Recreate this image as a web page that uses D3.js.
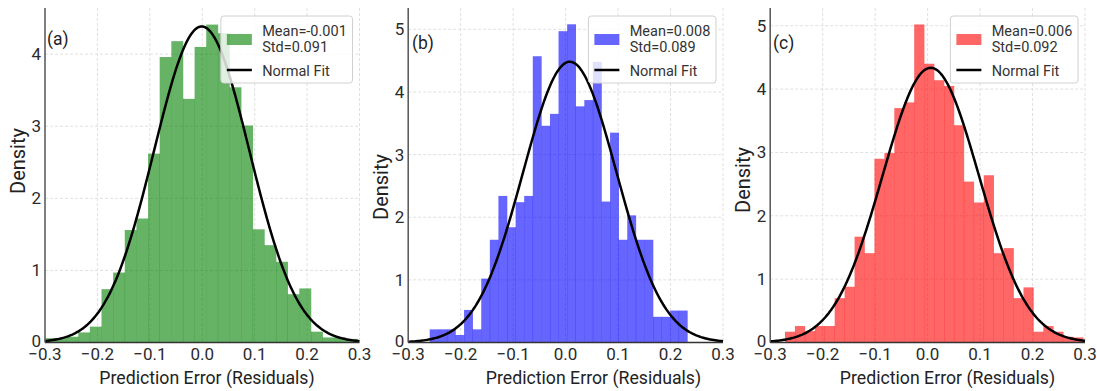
<!DOCTYPE html>
<html>
<head>
<meta charset="utf-8">
<script src="https://cdn.jsdelivr.net/npm/d3@7"></script>
<style>
  body { margin: 0; background: #fff; }
  svg text { font-family: Roboto, "Noto Sans", sans-serif; }
</style>
</head>
<body>
<svg id="chart" width="1097" height="391"></svg>
<script>
// residual histograms (density)
var panelLabels = ['(a)', '(b)', '(c)'];
var barColors = ['green', 'blue', 'red'];
var binStart = [-0.3032, -0.259, -0.2718];
var binWidth = [0.0222, 0.01637, 0.01894];

var densityA = [0.06, 0.06, 0.08, 0.14, 0.22, 0.74, 0.97, 1.56, 1.72, 2.62, 3.96, 4.18, 3.38, 4.10,
  4.41, 4.29, 3.54, 3.01, 1.57, 1.35, 1.12, 0.67, 0.75, 0.15, 0.07, 0.07, 0.05];
var densityB = [0.21, 0.21, 0.21, 0.12, 0.52, 0.21, 1.02, 1.64, 2.34, 1.84, 2.24, 2.34, 4.57, 3.46, 3.65,
  4.97, 5.08, 3.77, 3.87, 4.48, 2.25, 3.35, 1.64, 2.03, 1.64, 1.64, 0.41, 0.41, 0.51, 0.51];
var densityC = [0.17, 0.26, 0.18, 0.26, 0.26, 0.70, 0.88, 1.67, 1.41, 2.90, 2.99, 3.70, 3.79, 5.02, 4.40,
  4.14, 4.05, 3.43, 2.54, 2.21, 2.64, 1.41, 1.49, 0.70, 0.87, 0.17, 0.26, 0.17, 0.09, 0.08];

var fitMean = [-0.001, 0.008, 0.006];
var fitStd = [0.091, 0.089, 0.092];

var xTicks = [-0.3, -0.2, -0.1, 0.0, 0.1, 0.2, 0.3];
var yTicksA = [0, 1, 2, 3, 4];
var yTicksBC = [0, 1, 2, 3, 4, 5];
var yMax = [4.64, 5.34, 5.28];

var legendFit = 'Normal Fit';
var xTitle = 'Prediction Error (Residuals)';
var yTitle = 'Density';

;(function() {
  // layout of the three panels
  var layout = [
    {left: 45, right: 359.5, xTitleX: 207, yTitleY: 161, tagX: 47, tagY: 45},
    {left: 408.2, right: 723, xTitleX: 593.5, yTitleY: 187, tagX: 412, tagY: 49},
    {left: 770.2, right: 1085, xTitleX: 947.5, yTitleY: 180, tagX: 773, tagY: 49}
  ];
  var plotTop = 8, plotBottom = 342.5;

  var svg = d3.select('#chart');
  var fmt = d3.format('.1f');

  function normalPdf(x, m, s) {
    return Math.exp(-0.5 * Math.pow((x - m) / s, 2)) / (s * Math.sqrt(2 * Math.PI));
  }

  function drawPanel(i, density, yTicks) {
    var L = layout[i];
    var x = d3.scaleLinear().domain([-0.3, 0.3]).range([L.left, L.right]);
    var y = d3.scaleLinear().domain([0, yMax[i]]).range([plotBottom, plotTop]);

    var g = svg.append('g').attr('class', 'panel');

    g.append('clipPath').attr('id', 'clip' + i)
      .append('rect')
      .attr('x', L.left).attr('y', plotTop)
      .attr('width', L.right - L.left).attr('height', plotBottom - plotTop);

    // grid
    g.append('g').selectAll('line')
      .data(xTicks.slice(1))
      .enter().append('line')
      .attr('x1', function(d){ return x(d); })
      .attr('x2', function(d){ return x(d); })
      .attr('y1', plotTop).attr('y2', plotBottom)
      .attr('stroke', '#e0e0e0').attr('stroke-dasharray', '3,2').attr('stroke-width', 1);

    g.append('g').selectAll('line')
      .data(yTicks.slice(1))
      .enter().append('line')
      .attr('x1', L.left).attr('x2', L.right)
      .attr('y1', function(d){ return y(d); })
      .attr('y2', function(d){ return y(d); })
      .attr('stroke', '#e0e0e0').attr('stroke-dasharray', '3,2').attr('stroke-width', 1);

    // histogram bars
    var bins = density.map(function(v, k){
      var x0 = binStart[i] + k * binWidth[i];
      return {x0: x0, x1: x0 + binWidth[i], v: v};
    });

    g.append('g').attr('clip-path', 'url(#clip' + i + ')')
      .selectAll('rect')
      .data(bins)
      .enter().append('rect')
      .attr('x', function(d){ return x(d.x0); })
      .attr('width', function(d){ return x(d.x1) - x(d.x0) + 0.3; })
      .attr('y', function(d){ return y(d.v); })
      .attr('height', function(d){ return plotBottom - y(d.v); })
      .attr('fill', barColors[i])
      .attr('fill-opacity', 0.6);

    // normal fit
    var pts = d3.range(0, 201).map(function(k){
      var xv = -0.3 + k * 0.003;
      return [xv, normalPdf(xv, fitMean[i], fitStd[i])];
    });
    g.append('path')
      .datum(pts)
      .attr('fill', 'none')
      .attr('stroke', '#000')
      .attr('stroke-width', 2.5)
      .attr('d', d3.line()
        .x(function(d){ return x(d[0]); })
        .y(function(d){ return y(d[1]); }));

    // spines
    g.append('line')
      .attr('x1', L.left).attr('x2', L.left).attr('y1', plotTop).attr('y2', plotBottom)
      .attr('stroke', '#555').attr('stroke-width', 1.5);
    g.append('line')
      .attr('x1', L.left).attr('x2', L.right).attr('y1', plotBottom).attr('y2', plotBottom)
      .attr('stroke', '#333').attr('stroke-width', 1.5);

    // tick labels
    g.append('g').selectAll('text')
      .data(xTicks)
      .enter().append('text')
      .attr('x', function(d){ return x(d); })
      .attr('y', 360)
      .attr('text-anchor', 'middle')
      .attr('font-size', 17)
      .attr('fill', '#2b2b2b')
      .text(function(d){ return fmt(d); });

    g.append('g').selectAll('text')
      .data(yTicks)
      .enter().append('text')
      .attr('x', L.left - 4)
      .attr('y', function(d){ return y(d) - (d === 0 ? 1.5 : 0); })
      .attr('dy', '0.35em')
      .attr('text-anchor', 'end')
      .attr('font-size', 17)
      .attr('fill', '#2b2b2b')
      .text(function(d){ return d; });

    // axis titles
    g.append('text')
      .attr('x', L.xTitleX).attr('y', 384)
      .attr('text-anchor', 'middle')
      .attr('font-size', 17.7)
      .attr('fill', '#222')
      .text(xTitle);

    g.append('text')
      .attr('transform', 'translate(' + (L.left - 20) + ',' + L.yTitleY + ') rotate(-90)')
      .attr('text-anchor', 'middle')
      .attr('font-size', 20)
      .attr('fill', '#222')
      .text(yTitle);

    // panel tag
    g.append('text')
      .attr('x', L.tagX).attr('y', L.tagY)
      .attr('font-size', 17.5)
      .attr('fill', '#222')
      .text(panelLabels[i]);

    // legend
    var lg = g.append('g');
    var box = lg.append('rect')
      .attr('y', 16).attr('height', 67).attr('rx', 3)
      .attr('fill', '#fff').attr('fill-opacity', 0.8)
      .attr('stroke', '#d0d0d0').attr('stroke-width', 1);

    var labelLines = ['Mean=' + d3.format('.3f')(fitMean[i]).replace('\u2212', '-'),
                      'Std=' + d3.format('.3f')(fitStd[i])];
    var texts = lg.selectAll('text')
      .data(labelLines.concat([legendFit]))
      .enter().append('text')
      .attr('y', function(d, k){ return [36, 52, 76][k]; })
      .attr('font-size', 14.5)
      .attr('fill', '#333')
      .text(function(d){ return d; });

    var tw = 0;
    texts.each(function(){ tw = Math.max(tw, this.getComputedTextLength()); });
    var bx = L.right - 7 - (tw + 47);
    box.attr('x', bx).attr('width', tw + 47);
    texts.attr('x', bx + 41.3);

    lg.append('rect')
      .attr('x', bx + 6).attr('y', 34)
      .attr('width', 25).attr('height', 11)
      .attr('fill', barColors[i]).attr('fill-opacity', 0.6);
    lg.append('line')
      .attr('x1', bx + 6).attr('x2', bx + 31)
      .attr('y1', 70).attr('y2', 70)
      .attr('stroke', '#000').attr('stroke-width', 2.5);
  }

  drawPanel(0, densityA, yTicksA);
  drawPanel(1, densityB, yTicksBC);
  drawPanel(2, densityC, yTicksBC);
})();
</script>
</body>
</html>
